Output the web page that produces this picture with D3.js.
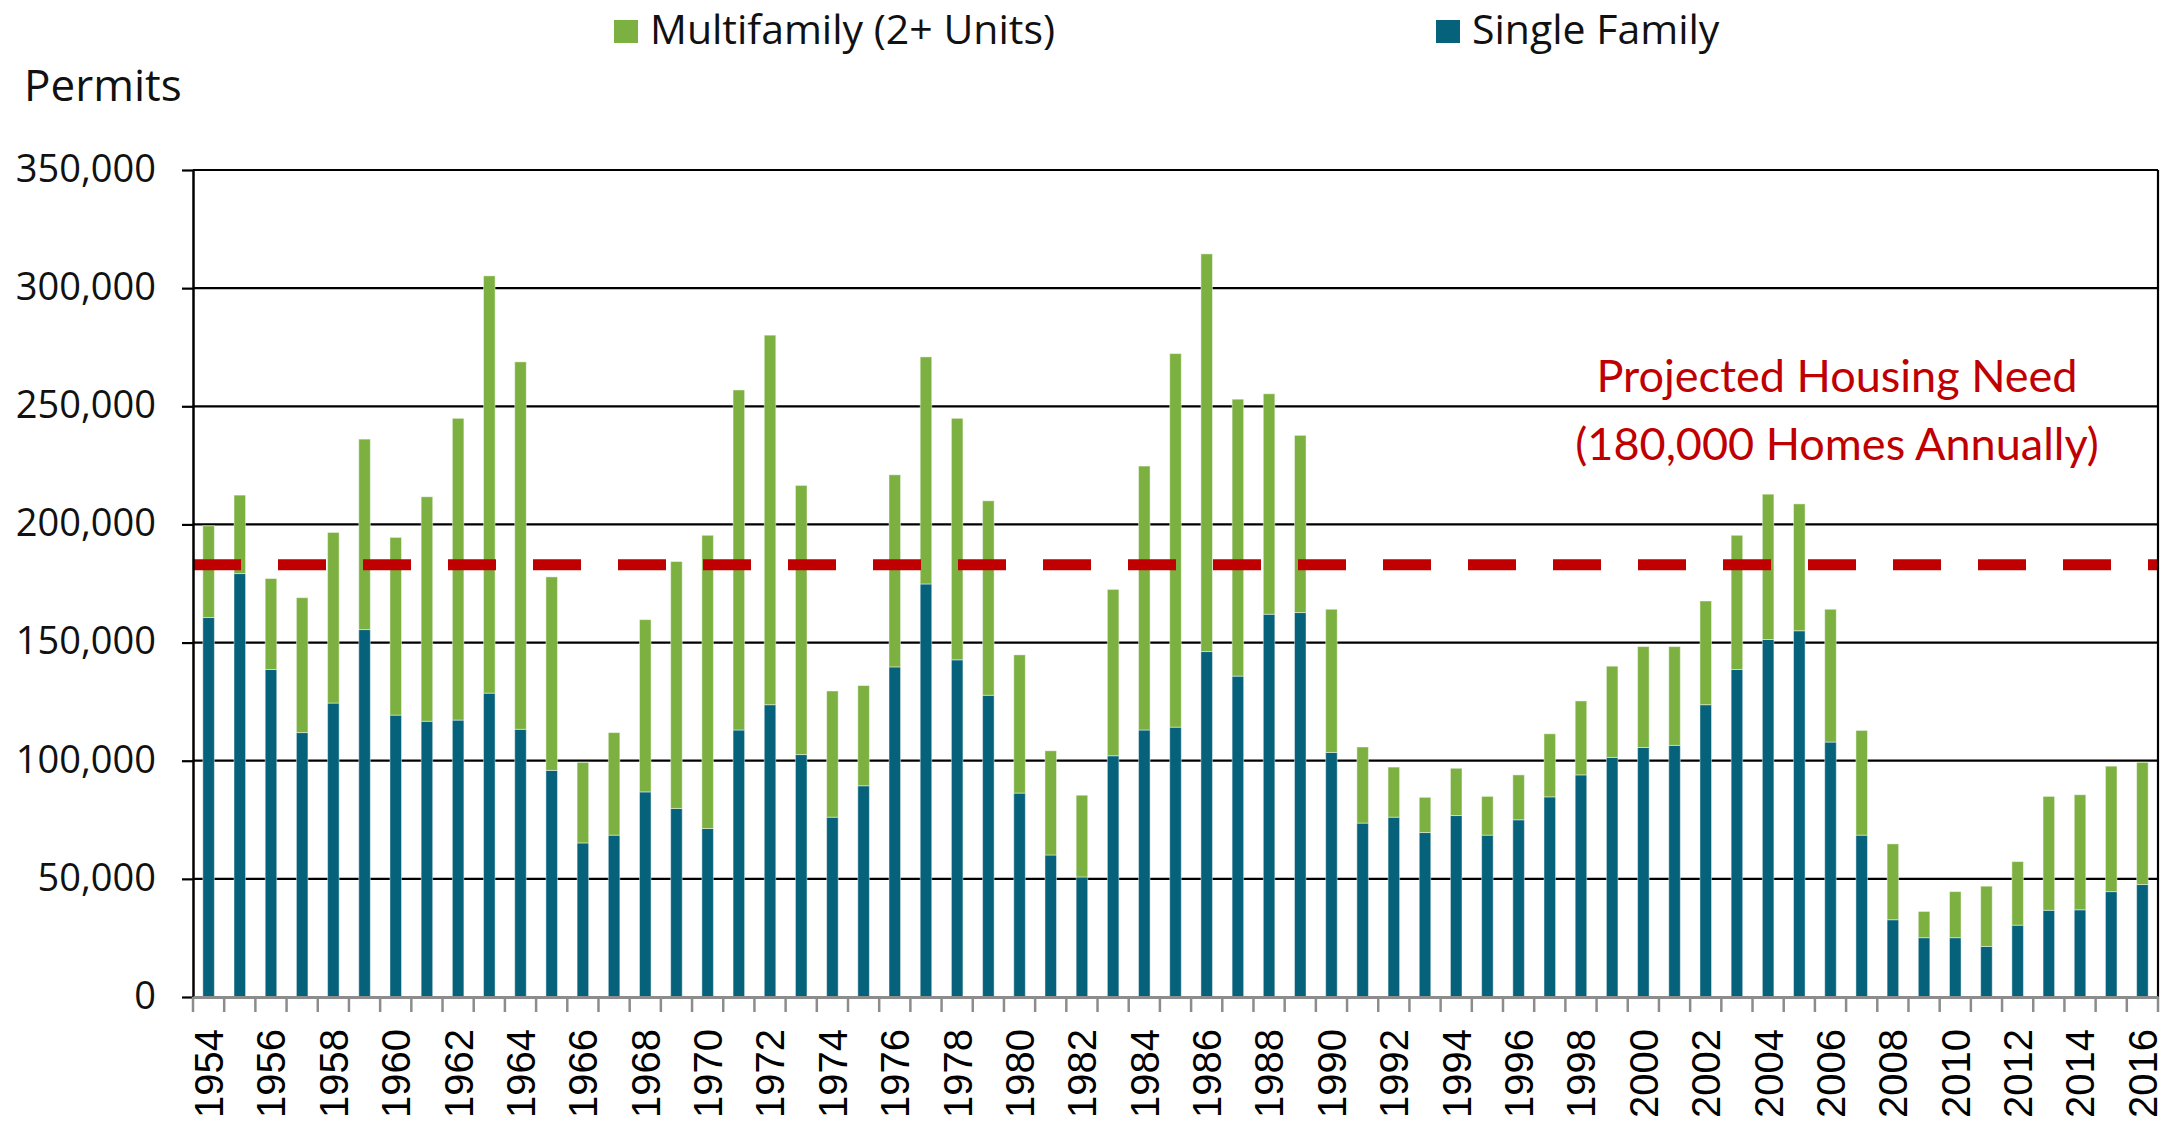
<!DOCTYPE html>
<html>
<head>
<meta charset="utf-8">
<script src="https://cdn.jsdelivr.net/npm/d3@7"></script>
<style>
  body { margin: 0; background: #fff; }
  svg { display: block; }
</style>
</head>
<body>
<svg id="chart" width="2180" height="1136"></svg>
<script>
var years = d3.range(1954, 2017);

var singleFamily = [
  160600, 179200, 138600, 111900, 124400, 155500, 119300, 116700, 117200, 128600,
  113300, 95900, 65200, 68500, 86800, 79800, 71300, 113000, 123700, 102600,
  76100, 89400, 139700, 174800, 142700, 127700, 86300, 60100, 50800, 102100,
  113000, 114200, 146200, 135800, 162000, 162700, 103500, 73600, 76100, 69600,
  76800, 68500, 75000, 84700, 94000, 101400, 105600, 106500, 123700, 138600,
  151300, 155000, 107900, 68500, 32700, 25100, 25100, 21400, 30400, 36700,
  36900, 44600, 47600
];

var multiFamily = [
  38800, 33200, 38500, 57100, 72200, 80600, 75200, 95000, 127700, 176600,
  155500, 81900, 34100, 43400, 72900, 104500, 124100, 143900, 156400, 113900,
  53400, 42400, 81300, 96100, 102200, 82300, 58500, 44100, 34600, 70400,
  111700, 158100, 168300, 117200, 93300, 75000, 60600, 32200, 21200, 14900,
  20000, 16400, 19000, 26700, 31300, 38600, 42700, 41800, 43900, 56800,
  61500, 53700, 56200, 44300, 32100, 11100, 19500, 25500, 26900, 48200,
  48700, 53100, 51700
];

var yTicks = [0, 50000, 100000, 150000, 200000, 250000, 300000, 350000];
var xTickYears = years.filter(function (d) { return d % 2 === 0; });

var seriesKeys = ["single", "multi"];
var seriesNames = { multi: "Multifamily (2+ Units)", single: "Single Family" };
var colors = { multi: "#7cb040", single: "#05627a" };

var needValue = 182900;
var needLabel = ["Projected Housing Need", "(180,000 Homes Annually)"];

var table = years.map(function (yr, i) {
  return { year: yr, single: singleFamily[i], multi: multiFamily[i] };
});

// plot box (window.top is read-only, so no bare "top")
var plotL = 193, plotR = 2158, plotT = 170, plotB = 997;

var svg = d3.select("#chart");

var x = d3.scaleBand()
  .domain(years)
  .range([plotL, plotR])
  .paddingInner(0.63)
  .paddingOuter(0.315);

var y = d3.scaleLinear()
  .domain([0, 350000])
  .range([plotB, plotT]);

// horizontal grid
svg.append("g")
  .selectAll("line")
  .data(yTicks.filter(function (d) { return d > 0; }))
  .join("line")
  .attr("x1", plotL)
  .attr("x2", plotR)
  .attr("y1", function (d) { return y(d); })
  .attr("y2", function (d) { return y(d); })
  .style("stroke", "#000")
  .style("stroke-width", 2.2);

// stacked bars
var stacked = d3.stack().keys(seriesKeys)(table);

svg.append("g")
  .selectAll("g")
  .data(stacked)
  .join("g")
  .style("fill", function (s) { return colors[s.key]; })
  .selectAll("rect")
  .data(function (s) { return s; })
  .join("rect")
  .attr("x", function (d) { return x(d.data.year); })
  .attr("width", x.bandwidth())
  .attr("y", function (d) { return y(d[1]); })
  .attr("height", function (d) { return y(d[0]) - y(d[1]); })
  .style("stroke", "rgba(255,255,255,0.45)")
  .style("stroke-width", 1);

// projected need line
svg.append("line")
  .attr("x1", plotL)
  .attr("x2", plotR)
  .attr("y1", y(needValue))
  .attr("y2", y(needValue))
  .style("stroke", "#c00000")
  .style("stroke-width", 11)
  .style("stroke-dasharray", "48 37");

svg.append("g")
  .selectAll("text")
  .data(needLabel)
  .join("text")
  .attr("x", 1837)
  .attr("y", function (d, i) { return 392 + i * 68; })
  .attr("text-anchor", "middle")
  .style("font-family", "Lato, 'Open Sans', sans-serif")
  .style("font-size", "45px")
  .style("fill", "#c00000")
  .text(function (d) { return d; });

// right border
svg.append("line")
  .attr("x1", plotR).attr("x2", plotR)
  .attr("y1", plotT).attr("y2", plotB)
  .style("stroke", "#000")
  .style("stroke-width", 2.2);

// y axis
var yAxis = svg.append("g")
  .attr("transform", "translate(" + plotL + ",0)")
  .call(d3.axisLeft(y)
    .tickValues(yTicks)
    .tickFormat(d3.format(","))
    .tickSizeInner(11)
    .tickSizeOuter(0)
    .tickPadding(26));

yAxis.select(".domain").style("stroke", "#000").style("stroke-width", 2.5);
yAxis.selectAll(".tick line").style("stroke", "#000").style("stroke-width", 2.2);
yAxis.selectAll(".tick text")
  .attr("dy", "0.3em")
  .style("font-family", "'Open Sans', sans-serif")
  .style("font-size", "38px")
  .style("fill", "#111");

// x axis
var xAxis = svg.append("g")
  .attr("transform", "translate(0," + plotB + ")")
  .call(d3.axisBottom(x)
    .tickValues(xTickYears)
    .tickSizeInner(0)
    .tickSizeOuter(0));

xAxis.select(".domain").style("stroke", "#8c8c8c").style("stroke-width", 3);
xAxis.selectAll(".tick line").remove();
xAxis.selectAll(".tick text")
  .attr("transform", "rotate(-90)")
  .attr("x", -32)
  .attr("y", 0)
  .attr("dy", "0.36em")
  .attr("text-anchor", "end")
  .style("font-family", "'Liberation Sans', Arial, sans-serif")
  .style("font-size", "40px")
  .style("fill", "#000");

// category boundary ticks
var step = x.step();
var bounds = years.map(function (yr) { return x(yr) + x.bandwidth() / 2 - step / 2; });
bounds.push(plotR);

xAxis.append("g")
  .selectAll("line")
  .data(bounds)
  .join("line")
  .attr("x1", function (d) { return d; })
  .attr("x2", function (d) { return d; })
  .attr("y1", 0)
  .attr("y2", 15)
  .style("stroke", "#8c8c8c")
  .style("stroke-width", 2.5);

// axis title
svg.append("text")
  .attr("x", 24)
  .attr("y", 101)
  .style("font-family", "'Open Sans', sans-serif")
  .style("font-size", "44px")
  .style("fill", "#111")
  .text("Permits");

// legend
var legendItems = [
  { key: "multi", x: 614 },
  { key: "single", x: 1436 }
];

var legend = svg.append("g")
  .selectAll("g")
  .data(legendItems)
  .join("g")
  .attr("transform", function (d) { return "translate(" + d.x + ",0)"; });

legend.append("rect")
  .attr("x", 0)
  .attr("y", 20)
  .attr("width", 24)
  .attr("height", 23)
  .style("fill", function (d) { return colors[d.key]; });

legend.append("text")
  .attr("x", 36)
  .attr("y", 44)
  .style("font-family", "'Open Sans', sans-serif")
  .style("font-size", "41px")
  .style("fill", "#111")
  .text(function (d) { return seriesNames[d.key]; });
</script>
</body>
</html>
